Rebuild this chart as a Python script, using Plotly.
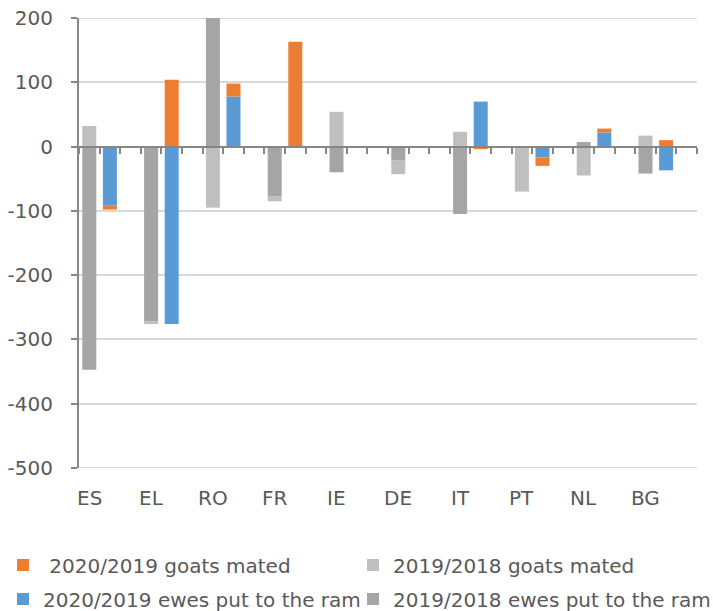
import plotly.graph_objects as go

# Change in mating numbers per member state (thousand head)
countries = ["ES", "EL", "RO", "FR", "IE", "DE", "IT", "PT", "NL", "BG"]
ewes_2019_2018 = [-347, -272, 205, -77, -40, -21, -105, 0, 7, -42]
goats_2019_2018 = [32, -4, -95, -8, 54, -22, 23, -70, -45, 17]
ewes_2020_2019 = [-92, -276, 78, 0, 0, 0, 70, -17, 22, -37]
goats_2020_2019 = [-6, 104, 20, 163, 0, 0, -4, -13, 6, 10]

y_ticks = [-500, -400, -300, -200, -100, 0, 100, 200]

Y_MIN, Y_MAX, Y_STEP = -500, 200, 100
SLOTS = 3  # per country: previous year, current year, spacer

x_prev = [SLOTS * i for i in range(len(countries))]
x_curr = [SLOTS * i + 1 for i in range(len(countries))]
x_range = [-0.5, SLOTS * len(countries) - 0.5]

TXT = "#595959"
AXIS = "#868686"
GRID = "#D9D9D9"
FONT = "DejaVu Sans"
BAR_W = 0.68

fig = go.Figure()

def add_bar(x, y, name, color, legend):
    fig.add_trace(go.Bar(
        x=x, y=y, name=name, width=BAR_W,
        marker=dict(color=color, line=dict(width=0)),
        legend=legend,
    ))

# stacking order: ewes closest to the zero line, goats stacked beyond
add_bar(x_prev, ewes_2019_2018, "2019/2018 ewes put to the ram", "#A5A5A5", "legend4")
add_bar(x_prev, goats_2019_2018, "2019/2018 goats mated", "#BFBFBF", "legend2")
add_bar(x_curr, ewes_2020_2019, "2020/2019 ewes put to the ram", "#5B9BD5", "legend3")
add_bar(x_curr, goats_2020_2019, "\u00a02020/2019 goats mated", "#ED7D31", "legend")

# category axis crosses the value axis at zero
zero_pos = (0 - Y_MIN) / (Y_MAX - Y_MIN)

# gridlines on the top and bottom edges of the value range
for yv in (Y_MIN, Y_MAX):
    fig.add_hline(y=yv, line=dict(color=GRID, width=2), layer="below")

# country names sit below the plot area, under each country's first bar
for xv, name in zip(x_prev, countries):
    fig.add_annotation(
        x=xv, xref="x", y=0, yref="paper", yanchor="top", yshift=-16,
        text=name, showarrow=False,
        font=dict(family=FONT, size=20, color=TXT),
    )

# plain hyphen for negative tick labels
minus_alias = {f"\u2212{abs(v)}": f"-{abs(v)}" for v in y_ticks if v < 0}

def legend_box(x, y):
    return dict(
        x=x, y=y, orientation="h", xanchor="left", yanchor="middle",
        font=dict(family=FONT, size=20, color=TXT),
        bgcolor="rgba(0,0,0,0)", itemclick=False, itemdoubleclick=False,
    )

COL1, COL2 = -0.123, 0.4434
ROW1, ROW2 = -0.2156, -0.291

fig.update_layout(
    width=713, height=611,
    margin=dict(l=79, r=16, t=18, b=143, autoexpand=False),
    paper_bgcolor="white", plot_bgcolor="white",
    barmode="relative",
    font=dict(family=FONT, size=20, color=TXT),
    showlegend=True,
    legend=legend_box(COL1, ROW1),
    legend2=legend_box(COL2, ROW1),
    legend3=legend_box(COL1, ROW2),
    legend4=legend_box(COL2, ROW2),
    xaxis=dict(
        anchor="free", position=zero_pos, side="bottom",
        range=x_range, showline=True, linecolor=AXIS, linewidth=2,
        showgrid=False, zeroline=False, showticklabels=False, ticks="",
        layer="above traces",
        minor=dict(ticks="outside", tickmode="linear", tick0=-0.5, dtick=1,
                   ticklen=6, tickwidth=2, tickcolor=AXIS, showgrid=False),
    ),
    yaxis=dict(
        range=[Y_MIN, Y_MAX], tickmode="linear", tick0=0, dtick=Y_STEP,
        labelalias=minus_alias,
        showgrid=True, gridcolor=GRID, gridwidth=2,
        showline=True, linecolor=AXIS, linewidth=2,
        ticks="outside", ticklen=6, tickwidth=2, tickcolor=AXIS,
        zeroline=False, ticklabelstandoff=14,
        tickfont=dict(family=FONT, size=20, color=TXT),
    ),
)

fig.write_html("out.html")
